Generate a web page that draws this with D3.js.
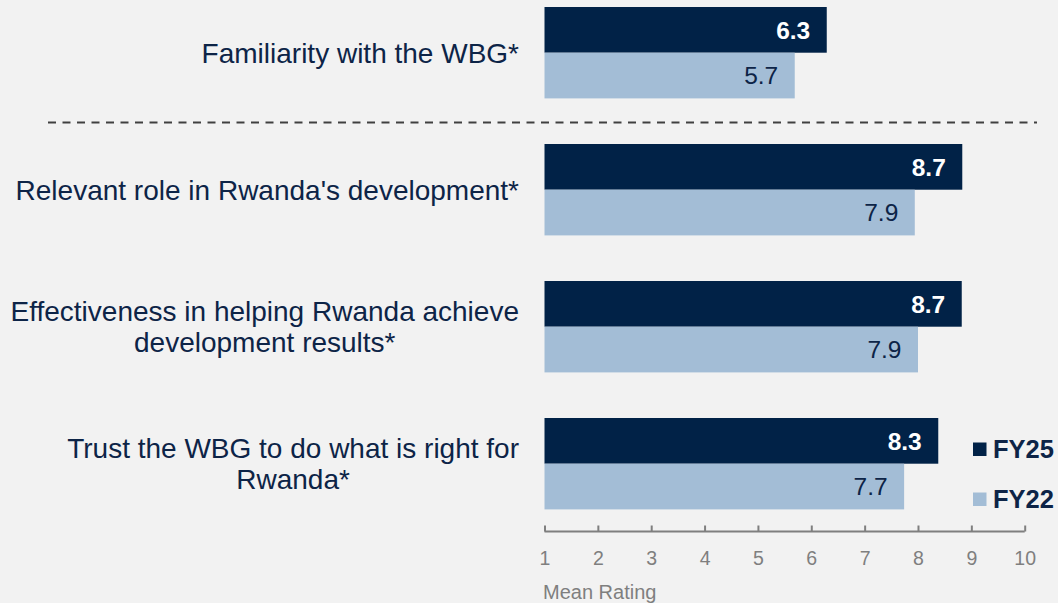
<!DOCTYPE html>
<html><head><meta charset="utf-8">
<script src="https://cdn.jsdelivr.net/npm/d3@7"></script>
<style>
html,body{margin:0;padding:0;background:#f2f2f2;}
svg{display:block;font-family:"Liberation Sans",Arial,sans-serif;}
</style></head>
<body>
<svg id="chart" width="1058" height="603"></svg>
<script>
const categories = [
  ["Familiarity with the WBG*"],
  ["Relevant role in Rwanda's development*"],
  ["Effectiveness in helping Rwanda achieve", "development results*"],
  ["Trust the WBG to do what is right for", "Rwanda*"]
];
const seriesNames = ["FY25", "FY22"];
const fy25Values = [6.29, 8.83, 8.82, 8.38];
const fy22Values = [5.69, 7.94, 8.0, 7.74];
const fy25Labels = ["6.3", "8.7", "8.7", "8.3"];
const fy22Labels = ["5.7", "7.9", "7.9", "7.7"];
const tickValues = [1,2,3,4,5,6,7,8,9,10];
const axisTitle = "Mean Rating";

const navy = "#012247", light = "#a3bdd6", grey = "#7f7f7f", textNavy = "#0d2447";
const svg = d3.select("#chart");
const x = d3.scaleLinear().domain([1,10]).range([544.5,1024.7]);
const y = d3.scaleBand().domain(d3.range(categories.length)).range([7,555]).paddingInner(0).paddingOuter(0);
const barH = 45.7;

const g = svg.append("g");
categories.forEach((cat,i)=>{
  const y0 = y(i);
  const vals = [fy25Values[i], fy22Values[i]];
  const labs = [fy25Labels[i], fy22Labels[i]];
  vals.forEach((v,j)=>{
    const yy = y0 + j*barH;
    g.append("rect").attr("x", x(1)).attr("y", yy).attr("width", x(v)-x(1)).attr("height", barH)
      .attr("fill", j===0?navy:light);
    g.append("text").attr("x", x(v)-16.5).attr("y", yy+barH/2).attr("dy","0.36em")
      .attr("text-anchor","end").attr("font-size",24.5)
      .attr("font-weight", j===0?"bold":"normal")
      .attr("fill", j===0?"#ffffff":textNavy).text(labs[j]);
  });
  const cy = y0 + barH;
  const lh = 31;
  const lines = cat.map((line,k)=>g.append("text").attr("y", cy + (k-(cat.length-1)/2)*lh).attr("dy","0.36em")
      .attr("text-anchor","middle").attr("font-size",28).attr("fill",textNavy).text(line));
  const maxW = d3.max(lines, t=>t.node().getComputedTextLength());
  lines.forEach(t=>t.attr("x", 519 - maxW/2));
});

// dashed separator
svg.append("line").attr("x1",48).attr("x2",1037).attr("y1",122.5).attr("y2",122.5)
  .attr("stroke","#404040").attr("stroke-width",1.8).attr("stroke-dasharray","8,6.5");

// axis
const axis = d3.axisBottom(x).tickValues(tickValues).tickSize(0).tickPadding(0).tickFormat(d3.format("d"));
const ax = svg.append("g").attr("transform","translate(0,531.5)").call(axis);
ax.select(".domain").attr("stroke",grey).attr("stroke-width",2).attr("d",`M${x(1)},0H${x(10)}`);
ax.selectAll(".tick").append("line").attr("y1",0).attr("y2",-6).attr("stroke",grey).attr("stroke-width",2);
ax.selectAll(".tick text").attr("fill",grey).attr("font-size",19.5).attr("y",26.5).attr("dy","0.36em")
  .attr("font-family","Liberation Sans, Arial, sans-serif");
svg.append("text").attr("x",543).attr("y",592).attr("dy","0.36em").attr("font-size",20).attr("fill",grey).text(axisTitle);

// legend
const leg = svg.append("g");
seriesNames.forEach((s,i)=>{
  const ly = [449, 499][i];
  leg.append("rect").attr("x",973).attr("y",ly-6.5).attr("width",13.5).attr("height",13.5).attr("fill", i===0?navy:light);
  leg.append("text").attr("x",993).attr("y",ly).attr("dy","0.36em").attr("font-size",25.5).attr("font-weight","bold")
    .attr("fill",textNavy).text(s);
});
</script>
</body></html>
